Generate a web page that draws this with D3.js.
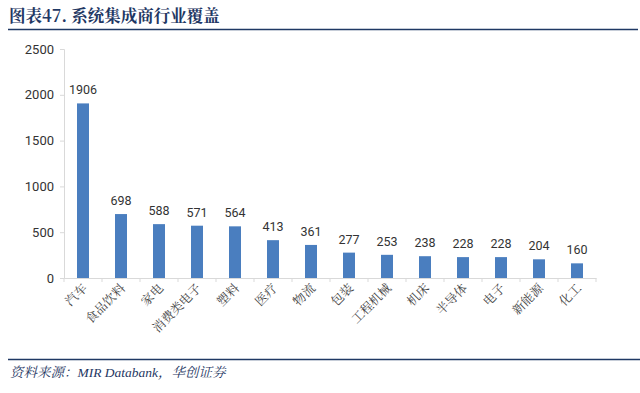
<!DOCTYPE html>
<html>
<head>
<meta charset="utf-8">
<script src="https://cdn.jsdelivr.net/npm/d3@7"></script>
<style>
  html, body { margin: 0; padding: 0; background: #fff; }
  svg { display: block; }
</style>
</head>
<body>
<div id="chart"></div>
<script>
// Chart data
const categories = ['汽车', '食品饮料', '家电', '消费类电子', '塑料', '医疗', '物流', '包装', '工程机械', '机床', '半导体', '电子', '新能源', '化工'];
const values = [1906, 698, 588, 571, 564, 413, 361, 277, 253, 238, 228, 228, 204, 160];
const yTicks = [0, 500, 1000, 1500, 2000, 2500];

const width = 640, height = 393;
const navy = '#1f3864';

const svg = d3.select('#chart').append('svg')
    .attr('width', width)
    .attr('height', height);

// Title + rule
svg.append('text')
    .attr('x', 9).attr('y', 22)
    .attr('font-family', '"Noto Serif CJK SC", "Noto Sans CJK SC", serif')
    .attr('font-size', 16.5).attr('font-weight', 700)
    .attr('fill', navy)
    .text('图表47. 系统集成商行业覆盖');
svg.append('line')
    .attr('x1', 8).attr('x2', 638).attr('y1', 29.5).attr('y2', 29.5)
    .attr('stroke', navy).attr('stroke-width', 1.6);

// Scales
const x = d3.scaleBand().domain(categories).range([64, 596]);
const y = d3.scaleLinear().domain([0, 2500]).range([278, 49]);

// Y axis
const yAxis = svg.append('g')
    .attr('transform', 'translate(64,0)')
    .call(d3.axisLeft(y).tickValues(yTicks).tickFormat(d3.format('d')).tickSize(4).tickPadding(6));
yAxis.select('.domain').attr('stroke', '#d9d9d9');
yAxis.selectAll('.tick line').attr('stroke', '#d9d9d9');
yAxis.selectAll('text')
    .attr('font-family', 'Roboto, "Open Sans", sans-serif')
    .attr('font-size', 13).attr('fill', '#333');

// X axis
const xAxis = svg.append('g')
    .attr('transform', 'translate(0,278)')
    .call(d3.axisBottom(x).tickSize(0).tickFormat(''));
xAxis.select('.domain').attr('stroke', '#d9d9d9');
// category separators
svg.append('g').selectAll('line')
    .data(categories.concat(['_end']))
    .join('line')
    .attr('x1', (d, i) => 64 + i * x.step())
    .attr('x2', (d, i) => 64 + i * x.step())
    .attr('y1', 278).attr('y2', 282)
    .attr('stroke', '#d9d9d9');

// Category labels
svg.append('g').selectAll('text')
    .data(categories)
    .join('text')
    .attr('transform', d => `translate(${x(d) + x.bandwidth() / 2 + 5},${289}) rotate(-45)`)
    .attr('text-anchor', 'end')
    .attr('font-family', '"Noto Serif CJK SC", "Noto Sans CJK SC", serif')
    .attr('font-size', 12.5)
    .attr('fill', '#444')
    .text(d => d);

// Bars
const barW = 12;
svg.append('g').selectAll('rect')
    .data(values)
    .join('rect')
    .attr('x', (d, i) => x(categories[i]) + x.bandwidth() / 2 - barW / 2)
    .attr('y', d => y(d))
    .attr('width', barW)
    .attr('height', d => y(0) - y(d))
    .attr('fill', '#4a7ebf');

// Value labels
svg.append('g').selectAll('text')
    .data(values)
    .join('text')
    .attr('x', (d, i) => x(categories[i]) + x.bandwidth() / 2)
    .attr('y', d => y(d) - 9)
    .attr('text-anchor', 'middle')
    .attr('font-family', 'Roboto, "Open Sans", sans-serif')
    .attr('font-size', 12.5)
    .attr('fill', '#333')
    .text(d => d);

// Source rule + text
svg.append('line')
    .attr('x1', 8).attr('x2', 640).attr('y1', 359.5).attr('y2', 359.5)
    .attr('stroke', navy).attr('stroke-width', 1.6);
svg.append('text')
    .attr('x', 10).attr('y', 377)
    .attr('font-family', '"Liberation Serif", "Noto Serif CJK SC", serif')
    .attr('font-style', 'italic')
    .attr('font-size', 13.5)
    .attr('fill', navy)
    .text('资料来源：MIR Databank，华创证券');
</script>
</body>
</html>
